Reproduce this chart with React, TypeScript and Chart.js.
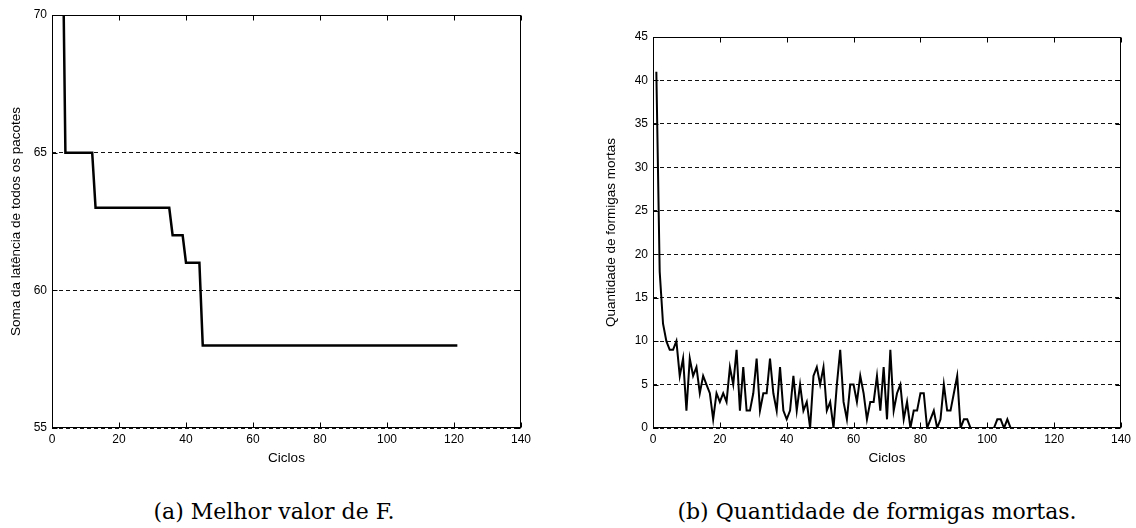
import React, { useEffect, useRef } from 'react';
import { Chart, registerables } from 'chart.js';

Chart.register(...registerables);

// ---- Data ----
// (a) Melhor valor de F. — step breakpoints (cycle, value)
const melhorCiclos = [1, 2, 3, 4, 12, 13, 35, 36, 39, 40, 44, 45, 121];
const melhorValores = [80, 78, 75, 65, 65, 63, 63, 62, 62, 61, 61, 58, 58];

// (b) Quantidade de formigas mortas
const ciclos = [
  1, 2, 3, 4, 5, 6, 7, 8, 9, 10, 11, 12, 13, 14, 15, 16, 17, 18, 19, 20,
  21, 22, 23, 24, 25, 26, 27, 28, 29, 30, 31, 32, 33, 34, 35, 36, 37, 38, 39, 40,
  41, 42, 43, 44, 45, 46, 47, 48, 49, 50, 51, 52, 53, 54, 55, 56, 57, 58, 59, 60,
  61, 62, 63, 64, 65, 66, 67, 68, 69, 70, 71, 72, 73, 74, 75, 76, 77, 78, 79, 80,
  81, 82, 83, 84, 85, 86, 87, 88, 89, 90, 91, 92, 93, 94, 95, 96, 97, 98, 99, 100,
  101, 102, 103, 104, 105, 106, 107, 108, 109, 110, 111, 112, 113, 114, 115, 116, 117, 118, 119, 120,
  121,
];
const formigasMortas = [
  41, 18, 12, 10, 9, 9, 10, 6, 8, 2, 8, 6, 7, 4, 6, 5, 4, 1, 4, 3,
  4, 3, 7, 5, 9, 2, 7, 2, 2, 4, 8, 2, 4, 4, 8, 4, 2, 7, 2, 1,
  2, 6, 2, 5, 2, 3, 0, 6, 7, 5, 7, 2, 3, 0, 5, 9, 3, 1, 5, 5,
  3, 6, 4, 1, 3, 3, 6, 2, 7, 1, 9, 2, 4, 5, 1, 3, 0, 2, 2, 4,
  4, 0, 1, 2, 0, 1, 5, 2, 2, 4, 6, 0, 1, 1, 0, 0, 0, 0, 0, 0,
  0, 0, 1, 1, 0, 1, 0, 0, 0, 0, 0, 0, 0, 0, 0, 0, 0, 0, 0, 0,
  0,
];

const xMin = 0;
const xMax = 140;
const xStep = 20;
const yMinF = 55;
const yMaxF = 70;
const yStepF = 5;
const yMinM = 0;
const yMaxM = 45;
const yStepM = 5;

const SANS = "'Liberation Sans', Arial, Helvetica, sans-serif";

const framePlugin = {
  id: 'matlabFrame',
  afterDatasetsDraw(chart: any) {
    const { ctx, chartArea, scales } = chart;
    const l = Math.round(chartArea.left) + 0.5;
    const r = Math.round(chartArea.right) - 0.5;
    const t = Math.round(chartArea.top) + 0.5;
    const b = Math.round(chartArea.bottom) - 0.5;
    ctx.save();
    ctx.strokeStyle = '#000';
    ctx.lineWidth = 1;
    ctx.setLineDash([]);
    ctx.strokeRect(l, t, r - l, b - t);
    const tl = 5;
    ctx.beginPath();
    scales.x.ticks.forEach((tk: any) => {
      const px = Math.round(scales.x.getPixelForValue(tk.value)) + 0.5;
      ctx.moveTo(px, b);
      ctx.lineTo(px, b - tl);
      ctx.moveTo(px, t);
      ctx.lineTo(px, t + tl);
    });
    scales.y.ticks.forEach((tk: any) => {
      const py = Math.round(scales.y.getPixelForValue(tk.value)) + 0.5;
      ctx.moveTo(l, py);
      ctx.lineTo(l + tl, py);
      ctx.moveTo(r, py);
      ctx.lineTo(r - tl, py);
    });
    ctx.stroke();
    ctx.restore();
  },
};

function makeOptions(opts: {
  padding: any;
  yWidth: number;
  yMin: number;
  yMax: number;
  yStep: number;
  yTitle: string;
  yTitlePad: number;
}) {
  return {
    responsive: false,
    animation: false as const,
    layout: { padding: opts.padding },
    plugins: {
      legend: { display: false },
      tooltip: { enabled: false },
    },
    elements: { point: { radius: 0 } },
    scales: {
      x: {
        type: 'linear' as const,
        min: xMin,
        max: xMax,
        afterFit: (s: any) => {
          s.height = 52;
        },
        ticks: {
          stepSize: xStep,
          color: '#000',
          padding: 4,
          maxRotation: 0,
          font: { family: SANS, size: 12 },
        },
        grid: { display: false, drawTicks: false },
        border: { display: false },
        title: {
          display: true,
          text: 'Ciclos',
          color: '#000',
          font: { family: SANS, size: 13.5 },
          padding: { top: 0, bottom: 14 },
        },
      },
      y: {
        type: 'linear' as const,
        min: opts.yMin,
        max: opts.yMax,
        afterFit: (s: any) => {
          s.width = opts.yWidth;
        },
        ticks: {
          stepSize: opts.yStep,
          color: '#000',
          padding: 5,
          font: { family: SANS, size: 12 },
        },
        grid: { display: true, drawTicks: false, color: '#111', lineWidth: 1 },
        border: { display: false, dash: [4, 3] },
        title: {
          display: true,
          text: opts.yTitle,
          color: '#000',
          font: { family: SANS, size: 13.5 },
          padding: { top: opts.yTitlePad, bottom: 0 },
        },
      },
    },
  };
}

function ChartF() {
  const ref = useRef<HTMLCanvasElement>(null);
  useEffect(() => {
    if (!ref.current) return;
    const chart = new Chart(ref.current, {
      type: 'line',
      data: {
        datasets: [
          {
            data: melhorCiclos.map((c, i) => ({ x: c, y: melhorValores[i] })),
            borderColor: '#000',
            borderWidth: 2.5,
            tension: 0,
            fill: false,
          },
        ],
      },
      options: makeOptions({
        padding: { left: 0, right: 39, top: 15, bottom: 0 },
        yWidth: 52,
        yMin: yMinF,
        yMax: yMaxF,
        yStep: yStepF,
        yTitle: 'Soma da latência de todos os pacotes',
        yTitlePad: 8,
      }) as any,
      plugins: [framePlugin],
    });
    return () => chart.destroy();
  }, []);
  return (
    <canvas
      ref={ref}
      width={560}
      height={480}
      style={{ position: 'absolute', left: 0, top: 0, width: 560, height: 480 }}
    />
  );
}

function ChartM() {
  const ref = useRef<HTMLCanvasElement>(null);
  useEffect(() => {
    if (!ref.current) return;
    const chart = new Chart(ref.current, {
      type: 'line',
      data: {
        datasets: [
          {
            data: ciclos.map((c, i) => ({ x: c, y: formigasMortas[i] })),
            borderColor: '#000',
            borderWidth: 2,
            tension: 0,
            fill: false,
          },
        ],
      },
      options: makeOptions({
        padding: { left: 40, right: 15, top: 37, bottom: 0 },
        yWidth: 53,
        yMin: yMinM,
        yMax: yMaxM,
        yStep: yStepM,
        yTitle: 'Quantidade de formigas mortas',
        yTitlePad: 3,
      }) as any,
      plugins: [framePlugin],
    });
    return () => chart.destroy();
  }, []);
  return (
    <canvas
      ref={ref}
      width={576}
      height={480}
      style={{ position: 'absolute', left: 560, top: 0, width: 576, height: 480 }}
    />
  );
}

const captionStyle: React.CSSProperties = {
  position: 'absolute',
  top: 499,
  height: 26,
  lineHeight: '26px',
  fontFamily: "'DejaVu Serif', serif",
  fontSize: 22,
  color: '#000',
  textAlign: 'center',
  whiteSpace: 'nowrap',
};

export default function App() {
  return (
    <div
      style={{
        position: 'absolute',
        left: 0,
        top: 0,
        width: 1136,
        height: 528,
        background: '#fff',
        overflow: 'hidden',
      }}
    >
      <ChartF />
      <ChartM />
      <div style={{ ...captionStyle, left: 74, width: 400 }}>(a) Melhor valor de F.</div>
      <div style={{ ...captionStyle, left: 677, width: 400 }}>(b) Quantidade de formigas mortas.</div>
    </div>
  );
}
